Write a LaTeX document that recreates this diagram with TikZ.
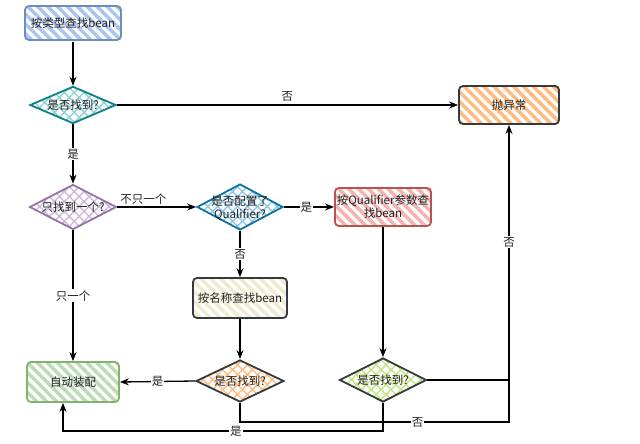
\documentclass[tikz,border=0pt]{standalone}
\usepackage{fontspec}
\setmainfont{Noto Sans CJK SC}
\usetikzlibrary{shapes.geometric,arrows.meta,patterns.meta,calc}
\definecolor{cblueD}{HTML}{6C8EBF}\definecolor{cblueL}{HTML}{A9C4EE}
\definecolor{ctealD}{HTML}{0E8088}\definecolor{ctealL}{HTML}{8FD3D8}
\definecolor{cpurD}{HTML}{9673A6}\definecolor{cpurL}{HTML}{CDB8D8}
\definecolor{cqD}{HTML}{10739E}\definecolor{cqL}{HTML}{8EC8E8}
\definecolor{credD}{HTML}{B85450}\definecolor{credL}{HTML}{F4B3B1}
\definecolor{cdark}{HTML}{36393D}
\definecolor{corgL}{HTML}{FFBC80}
\definecolor{ccreamL}{HTML}{EFEAD0}
\definecolor{cgrnD}{HTML}{82B366}\definecolor{cgrnL}{HTML}{BCDBB8}
\definecolor{climeL}{HTML}{C2E57E}
\definecolor{ctext}{HTML}{222222}
\begin{document}
\begin{tikzpicture}[x=1pt,y=-1pt,
  font=\fontsize{11.5}{13}\selectfont, text=ctext,
  box/.style 2 args={draw=#1, rounded corners=4pt, line width=1.8pt,
    pattern={Lines[angle=-45,distance=7pt,line width=3.5pt]}, pattern color=#2,
    inner sep=2pt, align=center},
  dia/.style 2 args={shape=diamond, draw=#1, line width=1.8pt,
    pattern={Hatch[angle=45,distance=7pt,line width=1.4pt]}, pattern color=#2,
    inner sep=0pt},
  arr/.style={draw=black, line width=1.3pt, -{Stealth[length=9pt,width=7pt]}},
  ln/.style={draw=black, line width=1.3pt},
  lbl/.style={fill=white, inner sep=1pt, text=ctext},
  tx/.style={align=center, inner sep=0pt, text=ctext}
]
\useasboundingbox (0,0) rectangle (640,444);

\node[box={cblueD}{cblueL}, minimum width=96pt, minimum height=34pt] (b1) at (73,23) {按类型查找bean};
\node[dia={ctealD}{ctealL}, minimum width=86pt, minimum height=37pt,
  label={[tx]center:是否找到?}] (d1) at (73,105) {};
\node[box={cdark}{corgL}, minimum width=100pt, minimum height=38pt] (exc) at (509,105) {抛异常};
\node[dia={cpurD}{cpurL}, minimum width=87pt, minimum height=45pt,
  label={[tx]center:只找到一个?}] (d2) at (73,207) {};
\node[dia={cqD}{cqL}, minimum width=86pt, minimum height=46pt,
  label={[tx,yshift=-1pt]center:是否配置了\\Qualifier?}] (d3) at (240,207) {};
\node[box={credD}{credL}, minimum width=91pt, minimum height=38pt] (rq) at (383,207) {按Qualifier参数查\\找bean};
\node[box={cdark}{ccreamL}, minimum width=94pt, minimum height=40pt] (bn) at (240,298) {按名称查找bean};
\node[box={cgrnD}{cgrnL}, minimum width=92pt, minimum height=40pt] (auto) at (73,382) {自动装配};
\node[dia={cdark}{corgL}, minimum width=88pt, minimum height=42pt,
  label={[tx]center:是否找到?}] (d4) at (240,381) {};
\node[dia={cdark}{climeL}, minimum width=87pt, minimum height=44pt,
  label={[tx]center:是否找到?}] (d5) at (383,380) {};

\coordinate (y4) at (0,422);
\coordinate (c4) at (exc.south |- y4);
\coordinate (c5) at (63,431);

\draw[arr] (b1.south) -- (d1.north);
\draw[arr] (d1.east) -- node[above, text=ctext, inner sep=3pt]{否} (exc.west);
\draw[arr] (d1.south) -- node[lbl]{是} (d2.north);
\draw[arr] (d2.east) -- node[above, pos=0.33, text=ctext, inner sep=2pt]{不只一个} (d3.west);
\draw[arr] (d3.east) -- node[lbl, pos=0.45]{是} (rq.west);
\draw[arr] (d3.south) -- node[lbl]{否} (bn.north);
\draw[arr] (d2.south) -- node[lbl]{只一个} (auto.north);
\draw[arr] (bn.south) -- (d4.north);
\draw[arr] (rq.south) -- (d5.north);
\draw[arr] (d4.west) -- node[lbl]{是} (auto.east);
\draw[arr] (d5.east) -| node[lbl, pos=0.77]{否} (exc.south);
\draw[ln] (d4.south) |- node[lbl, pos=0.83]{否} (c4) -- (c4 |- d5.east);
\draw[arr] (d5.south) |- node[lbl, pos=0.73]{是} (c5) -- (c5 |- auto.south);
\end{tikzpicture}
\end{document}
